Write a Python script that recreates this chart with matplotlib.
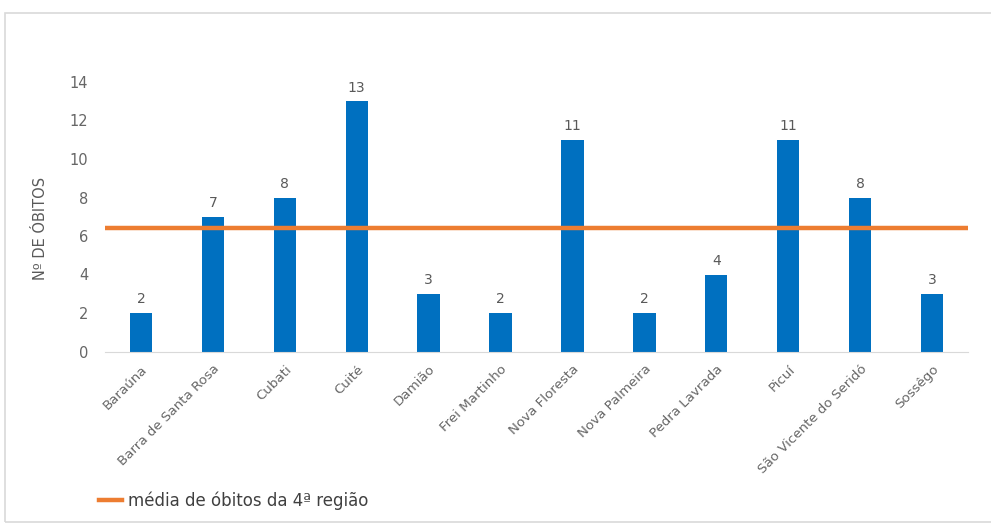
import matplotlib
matplotlib.use("Agg")
import matplotlib.pyplot as plt
from matplotlib.patches import Rectangle
from matplotlib.lines import Line2D

categories = ["Baraúna", "Barra de Santa Rosa", "Cubati", "Cuité", "Damião",
              "Frei Martinho", "Nova Floresta", "Nova Palmeira", "Pedra Lavrada",
              "Picuí", "São Vicente do Seridó", "Sossêgo"]
obitos = [2, 7, 8, 13, 3, 2, 11, 2, 4, 11, 8, 3]
media_regiao = 6.4
yticks = [0, 2, 4, 6, 8, 10, 12, 14]

plt.rcParams['font.family'] = ['DejaVu Sans']

fig = plt.figure(figsize=(9.91, 5.27), dpi=100)
fig.patches.append(Rectangle((5/991, 5/527), 1.2, 1 - 18/527, transform=fig.transFigure,
                             fill=False, edgecolor='#d9d9d9', linewidth=1.2))

ax = fig.add_axes([105/991, 1 - 351.5/527, (968 - 105)/991, (351.5 - 82)/527])
x = range(len(categories))
ax.bar(x, obitos, width=0.31, color='#0070C0', zorder=2)
ax.axhline(media_regiao, color='#ED7D31', linewidth=3.2, zorder=3)

for xi, v in zip(x, obitos):
    ax.text(xi, v + 0.35, str(v), ha='center', va='bottom', fontsize=10, color='#595959')

ax.set_xlim(-0.5, len(categories) - 0.5)
ax.set_ylim(0, 14)
ax.set_yticks(yticks)
ax.set_xticks(list(x))
ax.set_xticklabels(categories, rotation=45, ha='right', rotation_mode='anchor',
                   fontsize=9.6, color='#666666')
ax.tick_params(axis='y', length=0, labelsize=10.5, labelcolor='#666666', pad=12)
ax.tick_params(axis='x', length=0, pad=8)
for s in ['top', 'right', 'left']:
    ax.spines[s].set_visible(False)
ax.spines['bottom'].set_color('#d9d9d9')
ax.set_ylabel('Nº DE ÓBITOS', fontsize=10.5, color='#595959')
ax.yaxis.set_label_coords(-0.066, 0.455)

fig.legend(handles=[Line2D([], [], color='#ED7D31', linewidth=3.2)],
           labels=['média de óbitos da 4ª região'], loc='center left',
           bbox_to_anchor=(84/991, 1 - 501/527), frameon=False, fontsize=12,
           handlelength=1.4, handletextpad=0.35, labelcolor='#404040')

fig.savefig('out.png', dpi=100)
